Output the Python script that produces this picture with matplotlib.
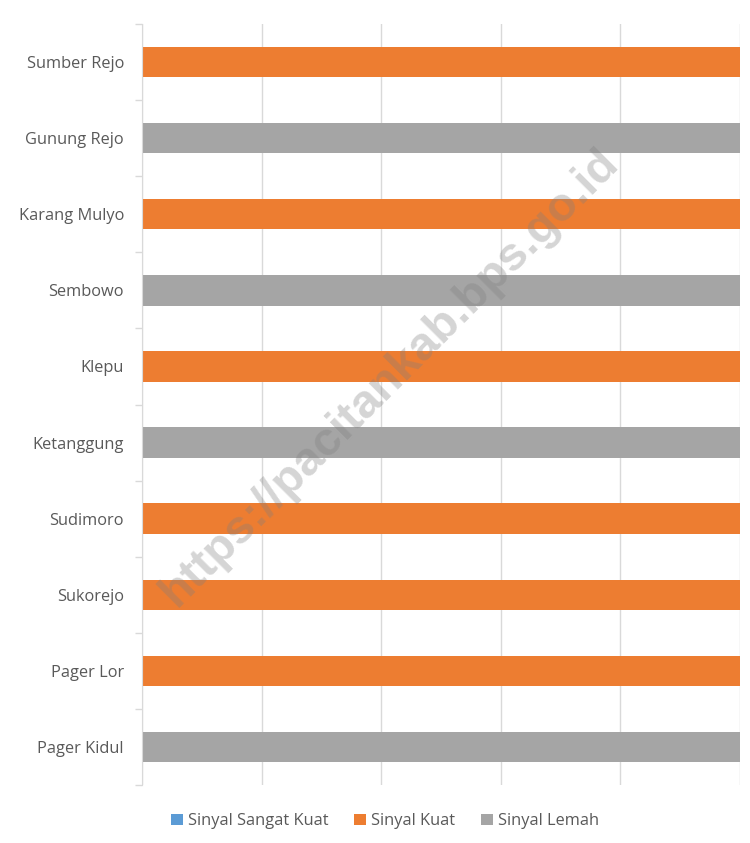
import numpy as np
import matplotlib.pyplot as plt

# data (100% stacked)
desa = ["Pager Kidul", "Pager Lor", "Sukorejo", "Sudimoro", "Ketanggung",
        "Klepu", "Sembowo", "Karang Mulyo", "Gunung Rejo", "Sumber Rejo"]
sangat_kuat = [0, 0, 0, 0, 0, 0, 0, 0, 0, 0]
kuat = [0, 1, 1, 1, 0, 1, 0, 1, 0, 1]
lemah = [1, 0, 0, 0, 1, 0, 1, 0, 1, 0]

warna = ["#5B9BD5", "#ED7D31", "#A5A5A5"]
nama = ["Sinyal Sangat Kuat", "Sinyal Kuat", "Sinyal Lemah"]

plt.rcParams['font.family'] = ['Open Sans', 'DejaVu Sans']

fig = plt.figure(figsize=(7.5, 8.43), dpi=100)
ax = fig.add_axes([142/750, 1-785/843, (740-142)/750, (785-24)/843])

y = np.arange(len(desa))
kiri = np.zeros(len(desa))
for vals, c, n in zip([sangat_kuat, kuat, lemah], warna, nama):
    vals = np.array(vals, dtype=float)
    ax.barh(y, vals, left=kiri, height=0.4, color=c, label=n, zorder=2)
    kiri = kiri + vals

ax.set_xlim(0, 1)
ax.set_ylim(-0.5, len(desa) - 0.5)
ax.set_xticks(np.arange(0, 1.01, 0.2))
ax.set_xticklabels([])
ax.tick_params(axis='x', length=0)
ax.grid(axis='x', color='#D9D9D9', linewidth=1, zorder=0)

ax.set_yticks(y)
ax.set_yticklabels(desa, fontsize=11.8, color='#595959')
ax.tick_params(axis='y', length=0, pad=13)
ax.set_yticks(np.arange(-0.5, len(desa)), minor=True)
ax.tick_params(axis='y', which='minor', length=5, color='#D9D9D9', width=1)

for s in ['top', 'right', 'bottom']:
    ax.spines[s].set_visible(False)
ax.spines['left'].set_color('#D9D9D9')

# legenda
fig.legend(loc='center', bbox_to_anchor=(385/750, 1-821/843), ncol=3,
           frameon=False, fontsize=11.8, labelcolor='#595959',
           handlelength=0.7, handleheight=0.7, handletextpad=0.3,
           columnspacing=1.6)

# watermark
fig.text(390/750, 1-378/843, "https://pacitankab.bps.go.id", rotation=45,
         ha='center', va='center', fontsize=34, fontweight='bold',
         family='Liberation Sans', color='#7F7F7F', alpha=0.33, zorder=5)

fig.savefig("out.png", dpi=100)
